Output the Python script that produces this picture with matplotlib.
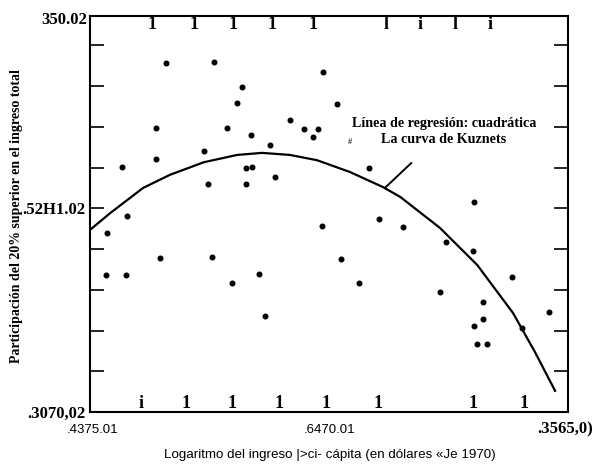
import matplotlib.pyplot as plt
from matplotlib import transforms

# Scatter points (log income per capita vs share of top 20%)
x_pts = [1.59, 2.59, 3.18, 3.08, 1.38, 2.87, 3.37, 2.38, 1.38, 0.67,
         3.26, 3.39, 2.47, 3.26, 4.87, 5.17, 4.18, 4.48, 4.77, 4.67,
         3.77, 3.87, 5.84, 0.77, 0.36, 1.46, 2.55, 0.33, 0.75, 2.97,
         3.54, 4.85, 6.05, 6.55, 5.25, 5.63, 3.66, 8.03, 7.45, 8.01,
         8.83, 7.32, 8.22, 9.60, 8.22, 8.03, 9.04, 8.10, 8.31]
y_pts = [8.56, 8.59, 7.98, 7.58, 6.97, 6.97, 6.80, 6.40, 6.21, 6.01,
         5.99, 6.01, 5.60, 5.60, 8.34, 7.56, 7.17, 6.94, 6.94, 6.75,
         6.55, 5.77, 5.99, 4.81, 4.39, 3.78, 3.80, 3.36, 3.36, 3.17,
         3.39, 4.56, 4.74, 4.54, 3.75, 3.17, 2.36, 5.15, 4.17, 3.95,
         3.31, 2.94, 2.70, 2.45, 2.28, 2.11, 2.06, 1.67, 1.67]

# Quadratic regression line (Kuznets curve)
x_fit = [0, 0.42, 1.11, 1.67, 2.38, 3.08, 3.60, 4.18, 4.75, 5.44,
         6.13, 6.49, 7.32, 8.10, 8.85, 9.31, 9.73]
y_fit = [4.47, 4.88, 5.50, 5.82, 6.13, 6.31, 6.36, 6.31, 6.18, 5.89,
         5.52, 5.28, 4.52, 3.61, 2.43, 1.47, 0.52]

# pointer from label to curve
x_ptr = [6.17, 6.72]
y_ptr = [5.50, 6.11]

# tick labels as printed (scanned text)
y_tick_labels = {0: '.3070,02', 5: '.52H1.02'}
y_top_label = '350.02'
x_tick_pos = [0.06, 5.02, 9.94]
x_tick_labels = ['.4375.01', '.6470.01', '.3565,0)']

# glyph-like tick marks along top and bottom spines
top_marks_x = [1.30, 2.18, 2.99, 3.81, 4.67, 6.19, 6.90, 7.64, 8.37]
top_marks = ['1', '1', '1', '1', '1', 'l', 'i', 'l', 'i']
bot_marks_x = [1.07, 2.01, 2.97, 3.95, 4.94, 6.03, 8.01, 9.08]
bot_marks = ['i', '1', '1', '1', '1', '1', '1', '1']

serif = 'Liberation Serif'
sans = 'Liberation Sans'

fig = plt.figure(figsize=(5.93, 4.65), dpi=100)
ax = fig.add_axes([0.1518, 0.114, 0.806, 0.8516])

ax.plot(x_pts, y_pts, 'o', color='black', markersize=3.3)
ax.plot(x_fit, y_fit, color='black', linewidth=1.6)
ax.plot(x_ptr, y_ptr, color='black', linewidth=1.4)

ax.text(7.40, 7.07, 'Línea de regresión: cuadrática', ha='center', va='center',
        fontfamily=serif, fontweight='bold', fontsize=10.2)
ax.text(7.40, 6.70, 'La curva de Kuznets', ha='center', va='center',
        fontfamily=serif, fontweight='bold', fontsize=10.2)
ax.text(5.44, 6.62, '#', ha='center', va='center', fontfamily=serif, fontsize=6)

for xm, m in zip(top_marks_x, top_marks):
    ax.text(xm, 9.72, m, ha='center', va='top', fontfamily=serif,
            fontweight='bold', fontsize=13)
for xm, m in zip(bot_marks_x, bot_marks):
    ax.text(xm, 0.0, m, ha='center', va='bottom', fontfamily=serif,
            fontweight='bold', fontsize=13)

ax.set_xlim(0, 10)
ax.set_ylim(0, 9.72)

ax.set_yticks(range(10))
ax.set_yticklabels([y_tick_labels.get(i, '') for i in range(10)],
                   fontfamily=serif, fontweight='bold', fontsize=12)
ax.tick_params(axis='y', direction='in', length=10, width=1.2, right=True, pad=3)
ax.text(-0.05, 9.62, y_top_label, ha='right', va='center', fontfamily=serif,
        fontweight='bold', fontsize=12)

ax.set_xticks([])
trans = transforms.blended_transform_factory(ax.transData, ax.transAxes)
for i, (xt, lab) in enumerate(zip(x_tick_pos, x_tick_labels)):
    if i == 2:
        ax.text(xt, -0.025, lab, transform=trans, ha='center', va='top',
                fontfamily=serif, fontweight='bold', fontsize=12)
    else:
        ax.text(xt, -0.03, lab, transform=trans, ha='center', va='top',
                fontfamily=sans, fontsize=9.5)

for s in ax.spines.values():
    s.set_linewidth(1.5)

fig.text(0.556, 0.022, 'Logaritmo del ingreso |>ci- cápita (en dólares «Je 1970)',
         ha='center', va='center', fontfamily=sans, fontsize=9.6)
fig.text(0.027, 0.535, 'Participación del 20% superior en el ingreso total',
         ha='center', va='center', rotation=90, fontfamily=serif,
         fontweight='bold', fontsize=10)

plt.savefig('out.png', dpi=100)
